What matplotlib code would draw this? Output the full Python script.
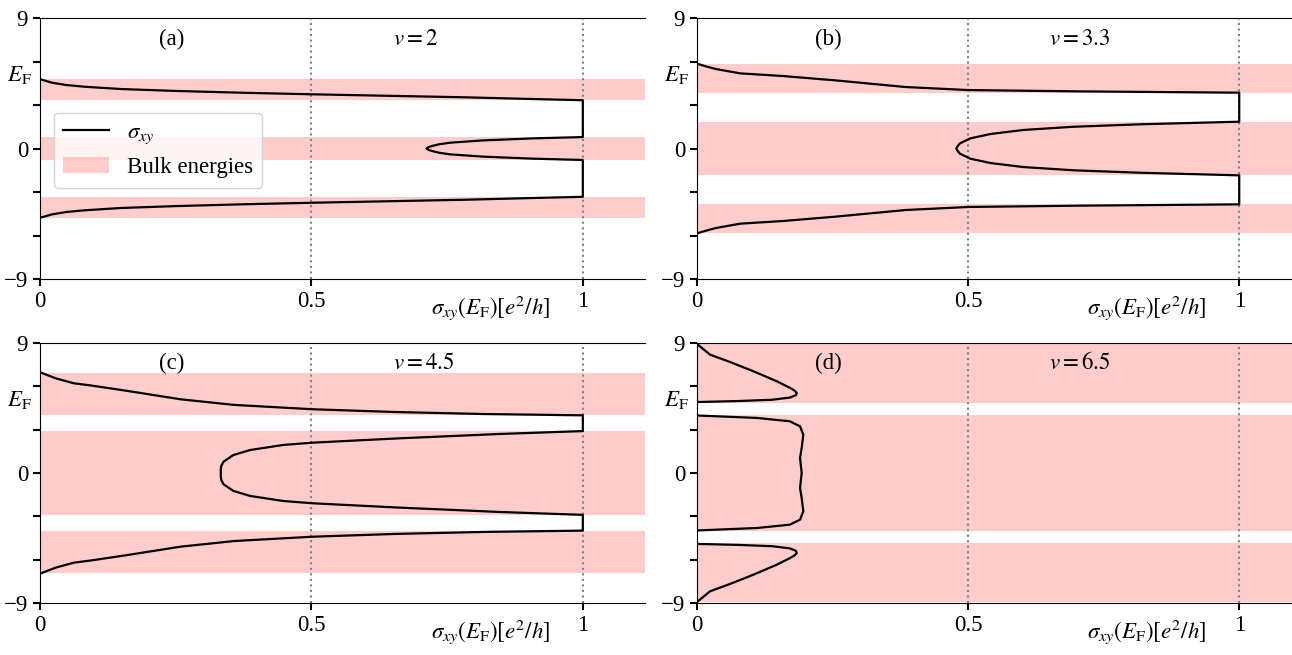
import matplotlib.pyplot as plt
from matplotlib.lines import Line2D
from matplotlib.patches import Patch

plt.rcParams['font.family'] = ['Liberation Serif', 'DejaVu Serif']
plt.rcParams['mathtext.fontset'] = 'stix'
plt.rcParams['font.size'] = 16.5

# sigma_xy (in e^2/h) against Fermi energy
sig_a = [0.0, 0.022, 0.048, 0.082, 0.15, 0.25, 0.38, 0.5, 0.65, 0.785, 0.9, 1.0,
         1.0, 0.908, 0.816, 0.755, 0.735, 0.724, 0.716, 0.712,
         0.716, 0.724, 0.735, 0.755, 0.816, 0.908, 1.0,
         1.0, 0.9, 0.785, 0.65, 0.5, 0.38, 0.25, 0.15, 0.082, 0.048, 0.022, 0.0]
E_a = [4.78, 4.54, 4.38, 4.26, 4.1, 3.97, 3.84, 3.74, 3.63, 3.53, 3.42, 3.33,
       0.79, 0.70, 0.56, 0.40, 0.29, 0.19, 0.10, 0.0,
       -0.10, -0.19, -0.29, -0.40, -0.56, -0.70, -0.79,
       -3.33, -3.42, -3.53, -3.63, -3.74, -3.84, -3.97, -4.1, -4.26, -4.38, -4.54, -4.78]

sig_b = [0.0, 0.016, 0.035, 0.08, 0.158, 0.255, 0.385, 0.501, 0.708, 1.0,
         1.0, 0.817, 0.694, 0.602, 0.541, 0.504, 0.485, 0.481, 0.478,
         0.481, 0.485, 0.504, 0.541, 0.602, 0.694, 0.817, 1.0,
         1.0, 0.708, 0.501, 0.385, 0.255, 0.158, 0.08, 0.035, 0.016, 0.0]
E_b = [5.85, 5.67, 5.48, 5.18, 5.0, 4.70, 4.24, 4.03, 3.94, 3.85,
       1.85, 1.67, 1.5, 1.28, 1.0, 0.70, 0.36, 0.18, 0.0,
       -0.18, -0.36, -0.70, -1.0, -1.28, -1.5, -1.67, -1.85,
       -3.85, -3.94, -4.03, -4.24, -4.70, -5.0, -5.18, -5.48, -5.67, -5.85]

sig_c = [0.0, 0.029, 0.062, 0.095, 0.161, 0.259, 0.358, 0.503, 0.654, 0.818, 1.0,
         1.0, 0.847, 0.663, 0.503, 0.448, 0.387, 0.356, 0.338, 0.334, 0.333, 0.333,
         0.333, 0.334, 0.338, 0.356, 0.387, 0.448, 0.503, 0.663, 0.847, 1.0,
         1.0, 0.818, 0.654, 0.503, 0.358, 0.259, 0.161, 0.095, 0.062, 0.029, 0.0]
E_c = [6.97, 6.55, 6.21, 6.05, 5.68, 5.1, 4.71, 4.41, 4.22, 4.08, 3.99,
       2.9, 2.7, 2.4, 2.1, 1.94, 1.59, 1.24, 0.78, 0.5, 0.25, 0.0,
       -0.25, -0.5, -0.78, -1.24, -1.59, -1.94, -2.1, -2.4, -2.7, -2.9,
       -3.99, -4.08, -4.22, -4.41, -4.71, -5.1, -5.68, -6.05, -6.21, -6.55, -6.97]

# panel (d): three separate lobes
sig_d_top = [0.0, 0.024, 0.061, 0.104, 0.147, 0.172, 0.18, 0.184, 0.182, 0.171, 0.139, 0.077, 0.0]
E_d_top = [8.93, 8.19, 7.68, 7.04, 6.35, 5.88, 5.7, 5.54, 5.38, 5.22, 5.07, 4.98, 4.91]
sig_d_mid = [0.0, 0.11, 0.171, 0.19, 0.196, 0.193, 0.19, 0.193, 0.19, 0.193, 0.196, 0.19, 0.171, 0.11, 0.0]
E_d_mid = [3.98, 3.81, 3.58, 3.23, 2.65, 1.73, 1.04, 0.0, -1.04, -1.73, -2.65, -3.23, -3.58, -3.81, -3.98]
sig_d_bot = [0.0, 0.077, 0.139, 0.171, 0.182, 0.184, 0.18, 0.172, 0.147, 0.104, 0.061, 0.024, 0.0]
E_d_bot = [-4.91, -4.98, -5.07, -5.22, -5.38, -5.54, -5.7, -5.88, -6.35, -7.04, -7.68, -8.19, -8.93]

# bulk energy bands (E ranges)
bands_a = [(3.32, 4.78), (-0.81, 0.81), (-4.78, -3.32)]
bands_b = [(3.85, 5.85), (-1.85, 1.85), (-5.85, -3.85)]
bands_c = [(4.0, 6.95), (-2.92, 2.92), (-6.95, -4.0)]
bands_d = [(4.85, 8.93), (-4.0, 4.0), (-8.93, -4.85)]

nu_labels = ['2', '3.3', '4.5', '6.5']
panel_tags = ['(a)', '(b)', '(c)', '(d)']

fig = plt.figure(figsize=(12.92, 6.55), dpi=100)
positions = [[0.031, 0.574, 0.468, 0.3985],
             [0.5395, 0.574, 0.4675, 0.3985],
             [0.031, 0.0794, 0.468, 0.397],
             [0.5395, 0.0794, 0.4675, 0.397]]
curves = [[(sig_a, E_a)], [(sig_b, E_b)], [(sig_c, E_c)],
          [(sig_d_top, E_d_top), (sig_d_mid, E_d_mid), (sig_d_bot, E_d_bot)]]
bands = [bands_a, bands_b, bands_c, bands_d]

for i in range(4):
    ax = fig.add_axes(positions[i])
    for lo, hi in bands[i]:
        ax.axhspan(lo, hi, color='red', alpha=0.2, lw=0)
    ax.axvline(0.5, color='gray', ls=':', lw=1.5, zorder=1)
    ax.axvline(1.0, color='gray', ls=':', lw=1.5, zorder=1)
    for s, e in curves[i]:
        ax.plot(s, e, color='k', lw=1.6, zorder=3, solid_joinstyle='round')

    ax.set_xlim(0, 1.114)
    ax.set_ylim(-9, 9)
    ax.set_xticks([0, 0.5, 1])
    ax.set_xticklabels(['0', '0.5', '1'])
    ax.set_yticks([-9, 0, 9])
    ax.set_yticks([-6, -3, 3, 6], minor=True)
    ax.tick_params(which='both', length=5, width=1.5)
    ax.spines['right'].set_visible(False)

    ytxt = 7.5 if i < 2 else 7.6
    ax.text(0.243, ytxt, panel_tags[i], ha='center', va='center')
    ax.text(0.65, ytxt, r'$v = %s$' % nu_labels[i], ha='left', va='center')

    ax.set_xlabel(r'$\sigma_{xy}(E_{\mathrm{F}})[e^2/h]$')
    ax.xaxis.set_label_coords(0.745, -0.055)
    ax.set_ylabel(r'$E_{\mathrm{F}}$', rotation=0, ha='center', va='center')
    ax.yaxis.set_label_coords(-0.035, 0.78)

    if i == 0:
        handles = [Line2D([], [], color='k', lw=1.6),
                   Patch(facecolor='red', alpha=0.2, lw=0)]
        ax.legend(handles, [r'$\sigma_{xy}$', 'Bulk energies'], loc='upper left',
                  bbox_to_anchor=(0.0225, 0.637), borderaxespad=0)

fig.savefig('out.png', dpi=100)
